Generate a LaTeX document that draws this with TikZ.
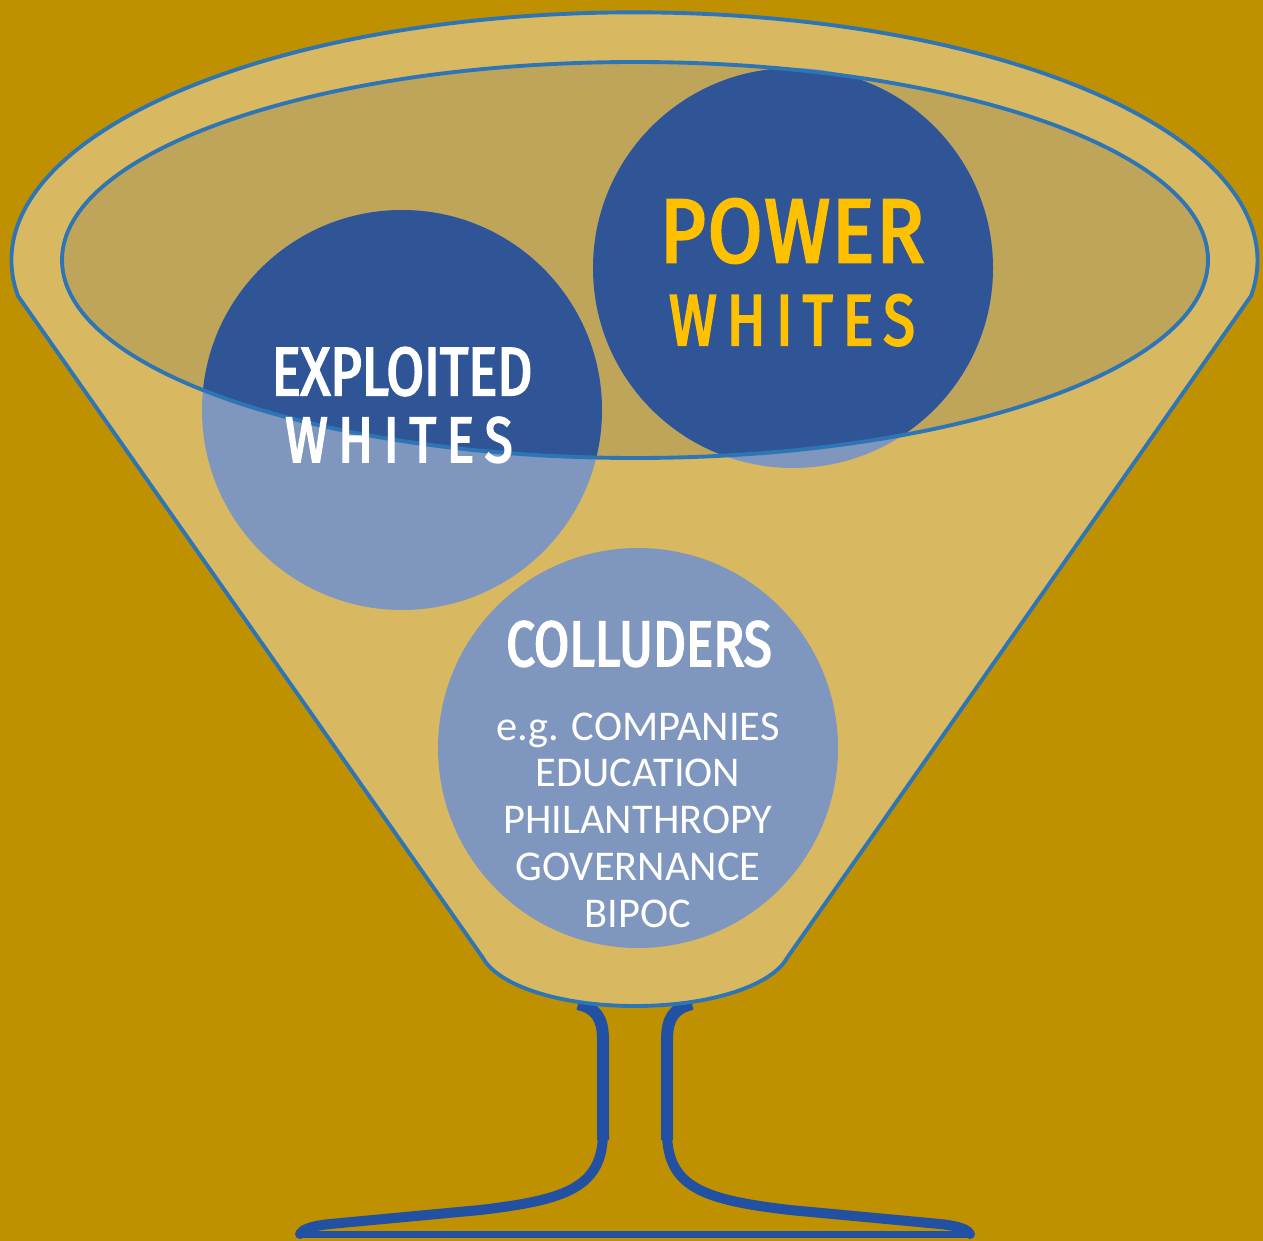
\documentclass[tikz,border=0pt]{standalone}
\usepackage{fontspec}
\newfontfamily\headfont[FakeStretch=0.8,FakeBold=3]{Fira Sans}
\newfontfamily\powerfont[FakeStretch=0.88,FakeBold=3]{Fira Sans}
\newfontfamily\listfont{Carlito}
\definecolor{bg}{HTML}{BF9000}
\definecolor{glassfill}{HTML}{D8B962}
\definecolor{innerfill}{HTML}{BFA55A}
\definecolor{rimblue}{HTML}{2E75B6}
\definecolor{darkblue}{HTML}{2F5597}
\definecolor{lightblue}{HTML}{7F96BF}
\definecolor{stemblue}{HTML}{2250A2}
\definecolor{powergold}{HTML}{FFC000}
\tikzset{
  rim/.style={draw=rimblue, line width=2.9pt},
  stemthick/.style={draw=stemblue, line width=9pt, line cap=butt},
  stemmid/.style={draw=stemblue, line width=7.5pt, line cap=round, line join=round},
  stemthin/.style={draw=stemblue, line width=5pt, line cap=round},
  head/.style={anchor=base, inner sep=0pt},
  listline/.style={anchor=base, inner sep=0pt, text=white, font=\listfont\fontsize{31.8}{35}\selectfont},
}
\begin{document}
\begin{tikzpicture}[x=0.75pt,y=-0.75pt]
\useasboundingbox (0,0) rectangle (1263,1241);
\fill[bg] (0,0) rectangle (1263,1241);
% centres
\coordinate (ex) at (402,410);
\coordinate (pw) at (793,268);
\coordinate (co) at (638,748);
% stem and base
\draw[stemthick] (578,1004) .. controls (596,1008) and (603,1018) .. (603,1040) -- (603,1140);
\draw[stemthick] (692,1004) .. controls (674,1008) and (667,1018) .. (667,1040) -- (667,1140);
\draw[stemmid] (603,1132) .. controls (603,1188) and (565,1200) .. (480,1210)
  -- (330,1224) .. controls (310,1226) and (302,1230) .. (300,1234);
\draw[stemmid] (667,1132) .. controls (667,1188) and (705,1200) .. (790,1210)
  -- (940,1224) .. controls (960,1226) and (968,1230) .. (970,1234);
\draw[stemthin] (300,1234.5) -- (970,1234.5);
% glass bowl
\path[fill=glassfill, rim] (18,296) arc[start angle=171.73, end angle=368.27, x radius=623, y radius=248]
  -- (787,958) .. controls (772,985) and (712,1006) .. (635,1006)
  .. controls (558,1006) and (498,985) .. (483,958) -- cycle;
% inner ellipse fill
\fill[innerfill] (635,260) ellipse [x radius=573, y radius=198];
% circles, light
\fill[lightblue] (ex) circle (200);
\fill[lightblue] (pw) circle (200);
\fill[lightblue] (co) circle (200);
% circles, dark inside the ellipse
\begin{scope}
  \clip (635,260) ellipse [x radius=573, y radius=198];
  \fill[darkblue] (ex) circle (200);
  \fill[darkblue] (pw) circle (200);
\end{scope}
\draw[rim] (635,260) ellipse [x radius=573, y radius=198];
% texts
\node[head, text=powergold, font=\powerfont\fontsize{67.5}{70}\selectfont] (power) at (792,262) {P\hspace{1.5pt}O\hspace{1.5pt}W\hspace{1.5pt}E\hspace{1.5pt}R};
\node[head, text=powergold, font=\headfont\fontsize{54}{56}\selectfont] (pwhites) at (792,345) {W\hspace{7.5pt}H\hspace{7.5pt}I\hspace{7.5pt}T\hspace{7.5pt}E\hspace{7.5pt}S};
\node[head, text=white, font=\headfont\fontsize{51}{54}\selectfont] (exploited) at (402,395) {EXPLOITED};
\node[head, text=white, font=\headfont\fontsize{48}{50}\selectfont] (ewhites) at (399,462) {W\hspace{8pt}H\hspace{8pt}I\hspace{8pt}T\hspace{8pt}E\hspace{8pt}S};
\node[head, text=white, font=\headfont\fontsize{48}{50}\selectfont] (colluders) at (639,666) {COLLUDERS};
\node[listline] (l1) at (638,740) {e.g. COMPANIES};
\node[listline] (l2) at (638,786) {EDUCATION};
\node[listline] (l3) at (638,833) {PHILANTHROPY};
\node[listline] (l4) at (638,880) {GOVERNANCE};
\node[listline] (l5) at (638,927) {BIPOC};
\end{tikzpicture}
\end{document}
